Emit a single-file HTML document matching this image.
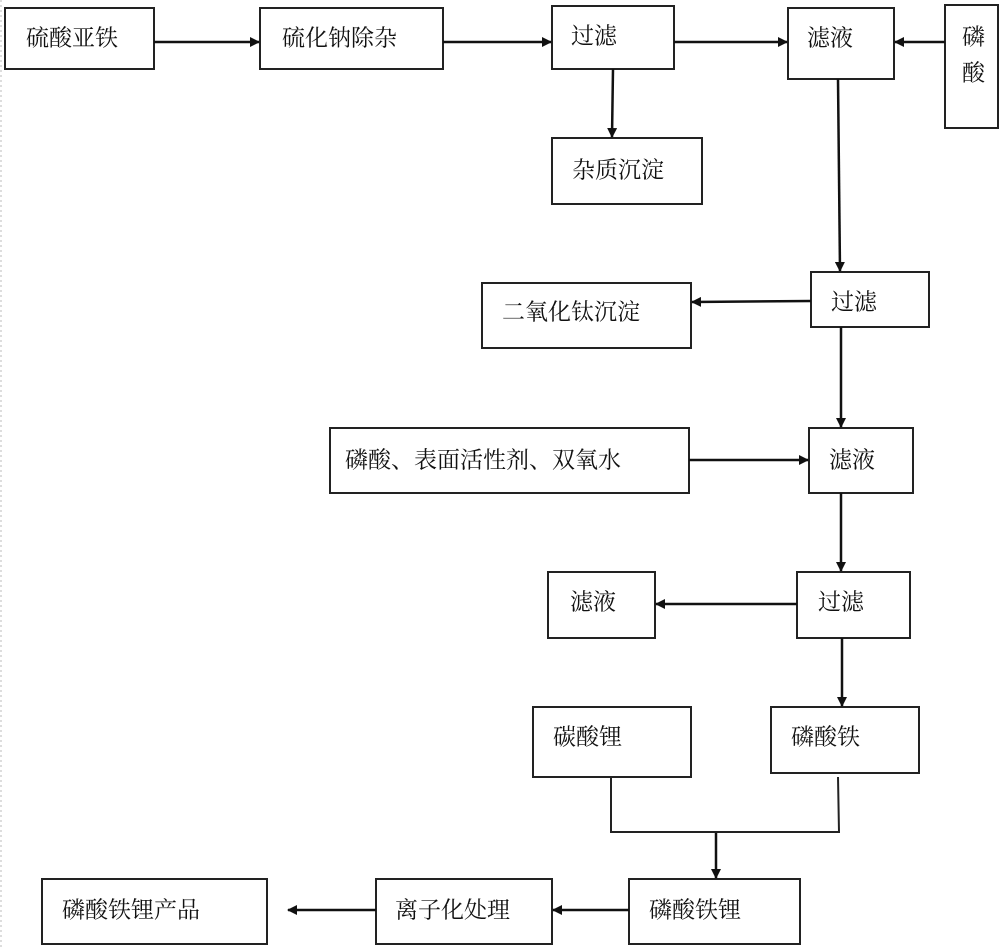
<!DOCTYPE html>
<html><head><meta charset="utf-8"><style>
html,body{margin:0;padding:0;background:#fff;}
svg{display:block;}
text{font-family:"Liberation Serif","Noto Serif CJK SC","Noto Sans CJK SC",serif;font-size:23px;fill:#111;dominant-baseline:central;}
</style></head><body>
<svg width="1000" height="950" viewBox="0 0 1000 950" xmlns="http://www.w3.org/2000/svg">
<defs><marker id="a" markerWidth="10" markerHeight="10" refX="9" refY="5" orient="auto" markerUnits="userSpaceOnUse"><path d="M0,0 L10,5 L0,10 z" fill="#111"/></marker></defs>
<line x1="1" y1="0" x2="1" y2="950" stroke="#bbb" stroke-dasharray="2,3" stroke-width="1"/>
<g fill="none" stroke="#222" stroke-width="2">
<rect x="5" y="8" width="149" height="61"/>
<rect x="260" y="8" width="183" height="61"/>
<rect x="552" y="6" width="122" height="63"/>
<rect x="788" y="8" width="106" height="71"/>
<rect x="945" y="5" width="53" height="123"/>
<rect x="552" y="138" width="150" height="66"/>
<rect x="811" y="272" width="118" height="55"/>
<rect x="482" y="283" width="209" height="65"/>
<rect x="330" y="428" width="359" height="65"/>
<rect x="809" y="428" width="104" height="65"/>
<rect x="797" y="572" width="113" height="66"/>
<rect x="548" y="572" width="107" height="66"/>
<rect x="533" y="707" width="158" height="70"/>
<rect x="771" y="707" width="148" height="66"/>
<rect x="629" y="879" width="171" height="65"/>
<rect x="376" y="879" width="176" height="65"/>
<rect x="42" y="879" width="225" height="65"/>
</g>
<g stroke="#111" stroke-width="2.5" fill="none" marker-end="url(#a)">
<line x1="154" y1="42" x2="259" y2="42"/>
<line x1="443" y1="42" x2="551" y2="42"/>
<line x1="674" y1="42" x2="787" y2="42"/>
<line x1="945" y1="42" x2="895" y2="42"/>
<line x1="613" y1="69" x2="612" y2="137"/>
<line x1="838" y1="79" x2="840" y2="271"/>
<line x1="811" y1="301" x2="692" y2="302"/>
<line x1="841" y1="327" x2="841" y2="427"/>
<line x1="689" y1="460" x2="808" y2="460"/>
<line x1="841" y1="493" x2="841" y2="571"/>
<line x1="797" y1="604" x2="656" y2="604"/>
<line x1="842" y1="638" x2="842" y2="706"/>
<line x1="716" y1="832" x2="716" y2="878"/>
<line x1="629" y1="910" x2="553" y2="910"/>
<line x1="376" y1="910" x2="288" y2="910"/>
</g>
<polyline points="611,777 611,832 839,832 838,777" fill="none" stroke="#222" stroke-width="2"/>
<text x="26" y="38">硫酸亚铁</text>
<text x="282" y="38">硫化钠除杂</text>
<text x="571" y="36">过滤</text>
<text x="807" y="38">滤液</text>
<text x="962" y="37">磷</text>
<text x="962" y="73">酸</text>
<text x="572" y="170">杂质沉淀</text>
<text x="502" y="312">二氧化钛沉淀</text>
<text x="831" y="302">过滤</text>
<text x="345" y="460">磷酸、表面活性剂、双氧水</text>
<text x="829" y="460">滤液</text>
<text x="818" y="602">过滤</text>
<text x="570" y="602">滤液</text>
<text x="553" y="737">碳酸锂</text>
<text x="791" y="737">磷酸铁</text>
<text x="649" y="910">磷酸铁锂</text>
<text x="395" y="910">离子化处理</text>
<text x="62" y="910">磷酸铁锂产品</text>
</svg>
</body></html>
